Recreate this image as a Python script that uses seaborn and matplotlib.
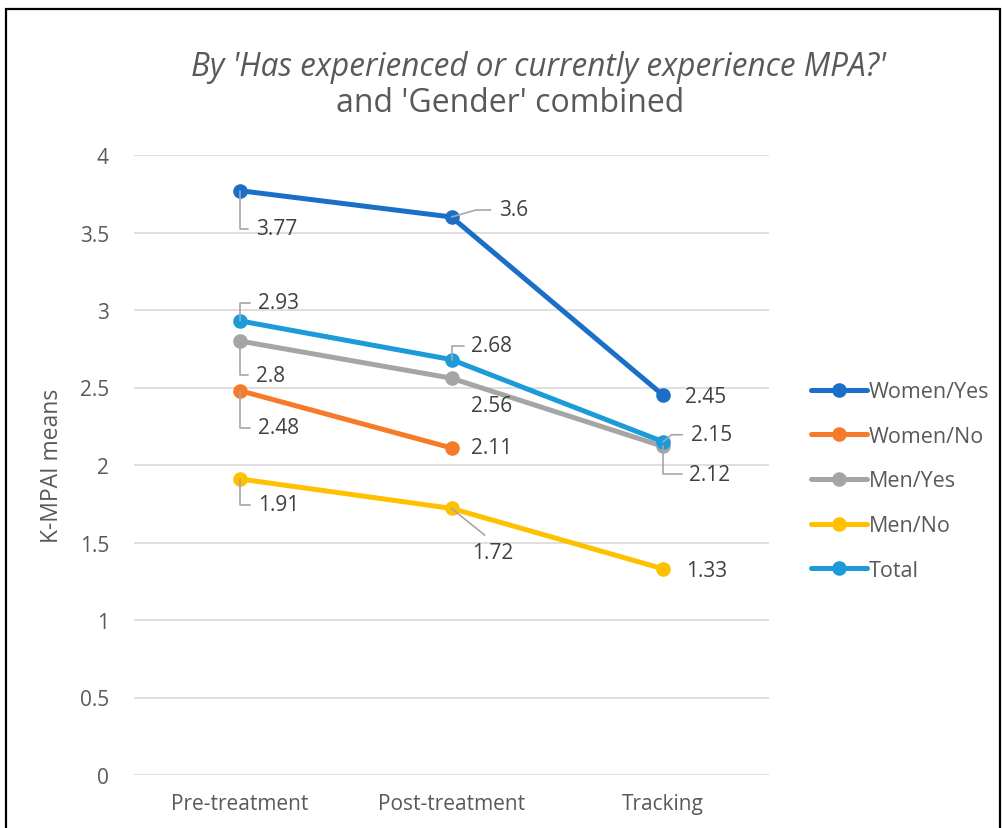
import pandas as pd
import matplotlib.pyplot as plt
import seaborn as sns
from matplotlib.patches import Rectangle

# data
phases = ["Pre-treatment", "Post-treatment", "Tracking"]
groups = ["Women/Yes", "Women/No", "Men/Yes", "Men/No", "Total"]
women_yes = [3.77, 3.6, 2.45]
women_no = [2.48, 2.11, None]
men_yes = [2.8, 2.56, 2.12]
men_no = [1.91, 1.72, 1.33]
total = [2.93, 2.68, 2.15]
colors = ["#1B6FC6", "#F67B28", "#A5A5A5", "#FFC000", "#1C9BD8"]

# label offsets (px from point to label left edge) and leader line style
label_pos = {
    "Women/Yes": [(16, -38, "v"), (48, 7, 16), (22, -1, None)],
    "Women/No": [(18, -37, "v"), (20, 0, None), None],
    "Men/Yes": [(16, -34, "v"), (20, -27, None), (26, -28, "v")],
    "Men/No": [(18, -26, "v"), (21, -44, "s"), (23, -2, None)],
    "Total": [(18, 18, "v"), (20, 14, "v"), (28, 7, 40)],
}

series = [women_yes, women_no, men_yes, men_no, total]
rows = []
for g, vals in zip(groups, series):
    for p, v in zip(phases, vals):
        if v is not None:
            rows.append({"phase": p, "group": g, "mean": v})
df = pd.DataFrame(rows)

sns.set_style("white")
plt.rcParams["font.family"] = ["Open Sans", "DejaVu Sans"]
txt = "#595959"

fig = plt.figure(figsize=(10.03, 8.29), dpi=100)
ax = fig.add_axes([134 / 1003, 1 - 776 / 829, 635 / 1003, 620 / 829])

sns.lineplot(data=df, x="phase", y="mean", hue="group", hue_order=groups,
             palette=colors, marker="o", markersize=10.5, markeredgewidth=0,
             linewidth=3.6, sort=False, ax=ax, legend=True)

ax.set_xlim(-0.5, 2.5)
ax.set_ylim(0, 4)
ax.set_yticks([0, 0.5, 1, 1.5, 2, 2.5, 3, 3.5, 4])
ax.set_yticklabels(["0", "0.5", "1", "1.5", "2", "2.5", "3", "3.5", "4"])
ax.grid(axis="y", color="#D9D9D9", linewidth=1.2)
ax.set_axisbelow(True)
for s in ax.spines.values():
    s.set_visible(False)
ax.tick_params(axis="both", length=0, labelsize=15, labelcolor=txt)
ax.tick_params(axis="y", pad=18)
ax.tick_params(axis="x", pad=13)
ax.set_xlabel("")
ax.set_ylabel("K-MPAI means", fontsize=16.5, color=txt, labelpad=11)

px = 72 / 100
lead = dict(arrowstyle="-", color="#A6A6A6", lw=1.2, shrinkB=0)
for g, vals in zip(groups, series):
    for i, v in enumerate(vals):
        pos = label_pos[g][i]
        if v is None or pos is None:
            continue
        dx, dy, kind = pos
        arrow = None
        if kind == "v":
            arrow = dict(lead, connectionstyle="angle,angleA=0,angleB=90,rad=0",
                         relpos=(0, 0.5), shrinkA=3)
        elif kind == "s":
            arrow = dict(lead, connectionstyle="arc3", relpos=(0.5, 1), shrinkA=4)
        elif kind is not None:
            arrow = dict(lead, connectionstyle=f"angle,angleA=0,angleB={kind},rad=0",
                         relpos=(0, 0.5), shrinkA=4)
        ax.annotate(f"{v:g}", xy=(i, v), xytext=(dx * px, dy * px),
                    textcoords="offset points", ha="left", va="center",
                    fontsize=15, color="#404040", arrowprops=arrow)

handles, labels = ax.get_legend_handles_labels()
ax.get_legend().remove()
fig.legend(handles, labels, loc="center left",
           bbox_to_anchor=(792 / 1003, 1 - 482 / 829), frameon=False,
           fontsize=15.5, labelcolor=txt, handlelength=2.6, handletextpad=0.05,
           labelspacing=1.1)

fig.text(538 / 1003, 1 - 68 / 829, "By 'Has experienced or currently experience MPA?'",
         ha="center", va="center", fontsize=22.7, style="italic", color=txt)
fig.text(510 / 1003, 1 - 103 / 829, "and 'Gender' combined",
         ha="center", va="center", fontsize=23, color=txt)

fig.patches.append(Rectangle((6 / 1003, -0.05), 994 / 1003, 1.05 - 10 / 829,
                             transform=fig.transFigure, fill=False,
                             edgecolor="black", linewidth=1.6))

fig.savefig("out.png", dpi=100)
